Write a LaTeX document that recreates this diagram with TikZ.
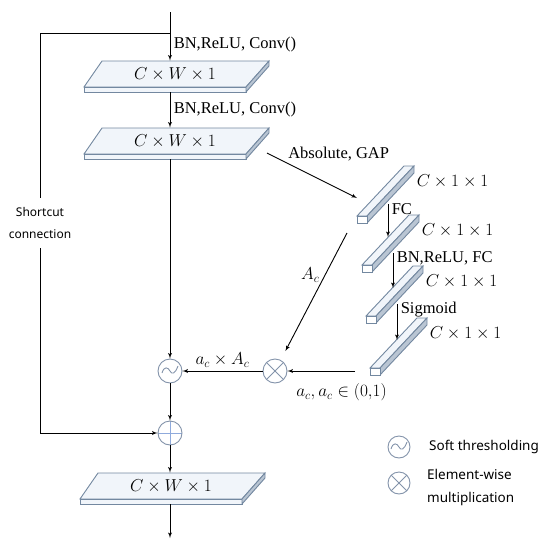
\documentclass[tikz,border=0pt]{standalone}
\usepackage{amsmath}
\usepackage{fontspec}
\setmainfont{Liberation Serif}
\setsansfont{Noto Sans}
\usetikzlibrary{arrows,positioning,calc}

\definecolor{edgec}{HTML}{7388A0}
\definecolor{topc}{HTML}{F1F5FA}
\definecolor{sidec}{HTML}{B9C5D3}
\definecolor{circc}{HTML}{8393AA}
\definecolor{plusc}{HTML}{8FAADC}

% flat feature map, #2,#3 = left end of the top face's back edge
\newcommand{\layerbox}[4]{%
  \filldraw[draw=edgec,fill=topc] (#2+18,#3) -- (#2+185,#3) -- (#2+162,#3+26) -- (#2,#3+26) -- cycle;
  \filldraw[draw=edgec,fill=topc] (#2,#3+26) rectangle (#2+162,#3+31);
  \filldraw[draw=edgec,fill=sidec] (#2+162,#3+26) -- (#2+185,#3) -- (#2+185,#3+5) -- (#2+162,#3+31) -- cycle;
  \node[inner sep=0,minimum height=26pt,lbl] (#1) at (#2+91,#3+13) {#4};
  \coordinate (#1-b) at (#2+91,#3+31);
  \coordinate (#1-e) at (#2+183,#3+25);}

% channel vector, #2,#3 = top left corner of the front face
\newcommand{\fcbar}[3]{%
  \filldraw[draw=edgec,fill=topc] (#2,#3) -- (#2+47,#3-50) -- (#2+57,#3-50) -- (#2+10,#3) -- cycle;
  \filldraw[draw=edgec,fill=sidec] (#2+10,#3) -- (#2+57,#3-50) -- (#2+57,#3-43) -- (#2+10,#3+7) -- cycle;
  \filldraw[draw=edgec,fill=white] (#2,#3) rectangle (#2+10,#3+7);
  \coordinate (#1-in) at (#2+26,#3-28);
  \coordinate (#1-out) at (#2+31,#3-12);
  \coordinate (#1-w) at (#2,#3-18);
  \coordinate (#1-sw) at (#2-10,#3+17);
  \coordinate (#1-l) at (#2-15,#3+3);
  \node[anchor=west,lbl] (#1-t) at (#2+56,#3-35) {$C\times 1\times 1$};}

\begin{document}
\begin{tikzpicture}[x=1pt,y=-1pt,->,>=latex',line width=0.9pt,
    lbl/.style={font=\fontsize{16.5}{18}\selectfont},
    sym/.style={circle,draw=circc,line width=0.9pt,minimum size=24pt,inner sep=0},
    soft/.style={sym,path picture={
      \draw[circc,-,shift={(path picture bounding box.center)}]
        (-8,2) .. controls (-6,-5) and (-2,-4) .. (0,0) .. controls (2,4) and (5,3) .. (8,-5);}},
    mult/.style={sym,path picture={
      \draw[circc,-] (path picture bounding box.north west) -- (path picture bounding box.south east)
        (path picture bounding box.north east) -- (path picture bounding box.south west);}},
    plus/.style={sym,path picture={
      \draw[plusc,-] (path picture bounding box.north) -- (path picture bounding box.south)
        (path picture bounding box.west) -- (path picture bounding box.east);}},
    legend/.style={font=\sffamily\fontsize{13.5}{23}\selectfont,align=left}]

  \useasboundingbox (0,0) rectangle (550,550);

  \coordinate (in) at (170,12);
  \coordinate (sc) at (170,33);
  \coordinate (out) at (170,538);

  \layerbox{l1}{84}{61}{$C\times W\times 1$}
  \layerbox{l2}{84}{128}{$C\times W\times 1$}
  \layerbox{l3}{80}{473}{$C\times W\times 1$}

  \fcbar{b1}{357}{216}
  \fcbar{b2}{362}{265}
  \fcbar{b3}{366}{316}
  \fcbar{b4}{370}{368}

  \node[soft] (st) at (170,371) {};
  \node[plus] (add) at (170,433) {};
  \node[mult] (ot) at (275,371) {};
  \node[font=\sffamily\fontsize{12}{22}\selectfont,align=center,minimum height=50pt,inner sep=0] (scl) at (40,223) {Shortcut\\connection};

  % main path
  \draw (in) -- (in |- l1.north) node[lbl,right,pos=0.67] {BN,ReLU, Conv()};
  \draw (in |- l1-b) -- (in |- l2.north) node[lbl,right,midway] {BN,ReLU, Conv()};
  \draw (in |- l2-b) -- (st);
  \draw (st) -- (add);
  \draw (add) -- (in |- l3.north);
  \draw (in |- l3-b) -- (out);
  \draw (sc) -| (scl) |- (add);

  % attention branch
  \draw (l2-e) -- (b1-w) node[lbl,pos=0.22,anchor=south west,inner sep=1pt] {Absolute, GAP};
  \draw (b1-out) -- (b1-out |- b2-in) node[lbl,right,pos=0.15] {FC};
  \draw (b2-out) -- (b2-out |- b3-in) node[lbl,right,pos=0.15] {BN,ReLU, FC};
  \draw (b3-out) -- (b3-out |- b4-in) node[lbl,right,pos=0.15] {Sigmoid};
  \draw[shorten >=10pt] (b1-sw) -- (ot) node[lbl,left,pos=0.33,xshift=-2pt] {$A_c$};
  \draw (b4-l) -- (ot) node[lbl,below,pos=0.2,yshift=-9pt] {$a_c,a_c\in(0{,}1)$};
  \draw (ot) -- (st) node[lbl,above,midway] {$a_c\times A_c$};

  % legend
  \node[soft,minimum size=22pt] (lg1) at (399,447) {};
  \node[legend,right=15pt of lg1] (lg1t) {Soft thresholding};
  \node[mult,minimum size=22pt] (lg2) at (399,483) {};
  \node[legend,right=13pt of lg2,yshift=-4pt] (lg2t) {Element-wise\\multiplication};
\end{tikzpicture}
\end{document}
